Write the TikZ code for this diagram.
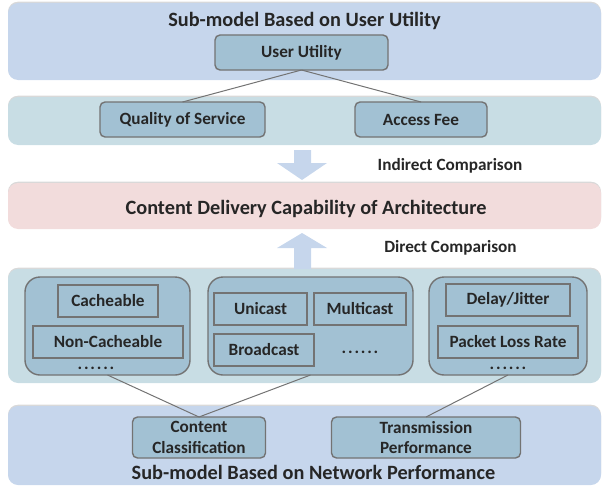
\documentclass[tikz,border=0pt]{standalone}
\usepackage{fontspec}
\setmainfont{Carlito}
\usetikzlibrary{shadows}
\definecolor{bandblue}{HTML}{C6D6EC}
\definecolor{bandteal}{HTML}{C8DDE4}
\definecolor{bandpink}{HTML}{F2DCDC}
\definecolor{boxfill}{HTML}{A2C1D3}
\definecolor{boxline}{HTML}{737373}
\definecolor{arrowblue}{HTML}{C6D6EC}
\newcommand\mydots{.\kern1.8pt.\kern1.8pt.\kern1.8pt.\kern1.8pt.\kern1.8pt.}
\begin{document}
\begin{tikzpicture}[x=1pt,y=-1pt,
  every node/.style={font=\bfseries\fontsize{17.2}{20.5}\selectfont, text=black!85, inner sep=0pt, outer sep=0pt},
  band/.style={rounded corners=10pt, draw=none, anchor=north west, drop shadow={opacity=0.3, shadow xshift=0pt, shadow yshift=1.3pt}},
  ttl/.style={font=\bfseries\fontsize{20.3}{24}\selectfont},
  ubox/.style={draw=boxline, line width=1.4pt, fill=boxfill, rounded corners=5pt, align=center},
  grp/.style={draw=boxline, line width=1.4pt, fill=boxfill, rounded corners=15pt},
  sbox/.style={draw=boxline, line width=1.4pt, fill=boxfill},
  link/.style={draw=boxline, line width=1pt},
  blockarrow/.style={fill=arrowblue, draw=none}]
\useasboundingbox (0,0) rectangle (602,487);
% bands
\node[band, fill=bandblue, minimum width=593, minimum height=77] (topband) at (8,3) {};
\node[band, fill=bandteal, minimum width=593, minimum height=48] (qband) at (8,97) {};
\node[band, fill=bandpink, minimum width=593, minimum height=46] (pband) at (8,183) {};
\node[band, fill=bandteal, minimum width=593, minimum height=114] (lband) at (8,269) {};
\node[band, fill=bandblue, minimum width=593, minimum height=79] (bband) at (8,406) {};
% titles
\node[ttl] (ttop) at (304.5,21) {Sub-model Based on User Utility};
\node[ttl] (tmid) at (306,209) {Content Delivery Capability of Architecture};
\node[ttl] (tbot) at (313.5,472) {Sub-model Based on Network Performance};
% user utility part
\node[ubox, minimum width=173, minimum height=35] (uu) at (301.5,52.5) {User Utility};
\node[ubox, minimum width=165, minimum height=35] (qos) at (182.5,119.5) {Quality of Service};
\node[ubox, minimum width=132, minimum height=35] (fee) at (421,119.5) {Access Fee};
\draw[link] (uu.south) -- (qos.north);
\draw[link] (uu.south) -- (fee.north);
% arrows
\fill[blockarrow] (294,150) -- (311,150) -- (311,163) -- (327,163) -- (302,180) -- (277,163) -- (294,163) -- cycle;
\fill[blockarrow] (294,269) -- (311,269) -- (311,248) -- (327,248) -- (302,233) -- (277,248) -- (294,248) -- cycle;
\node (ind) at (450,166) {Indirect Comparison};
\node (dir) at (450.5,248) {Direct Comparison};
% groups
\node[grp, minimum width=165, minimum height=98] (g1) at (107.5,326) {};
\node[grp, minimum width=205, minimum height=98] (g2) at (310.5,326) {};
\node[grp, minimum width=158, minimum height=98] (g3) at (508,326) {};
\node[sbox, minimum width=100, minimum height=32] (cach) at (108,301) {Cacheable};
\node[sbox, minimum width=150, minimum height=32] (ncach) at (108,342) {Non-Cacheable};
\node (dots1) at (96,368) {\mydots};
\node[sbox, minimum width=93, minimum height=32] (uni) at (260.5,309) {Unicast};
\node[sbox, minimum width=92, minimum height=32] (multi) at (360,309) {Multicast};
\node[sbox, minimum width=100, minimum height=32] (broad) at (264,350) {Broadcast};
\node (dots2) at (360,352) {\mydots};
\node[sbox, minimum width=124, minimum height=32] (delay) at (508,300) {Delay/Jitter};
\node[sbox, minimum width=140, minimum height=32] (plr) at (508,342) {Packet Loss Rate};
\node (dots3) at (508,368) {\mydots};
% network performance part
\node[ubox, minimum width=133, minimum height=41] (cc) at (199,437.5) {Content\\Classification};
\node[ubox, minimum width=189, minimum height=41] (tp) at (426,437.5) {Transmission\\Performance};
\draw[link] (g1.south) -- (cc.north);
\draw[link] (g2.south) -- (cc.north);
\draw[link] (g3.south) -- (tp.north);
\end{tikzpicture}
\end{document}
